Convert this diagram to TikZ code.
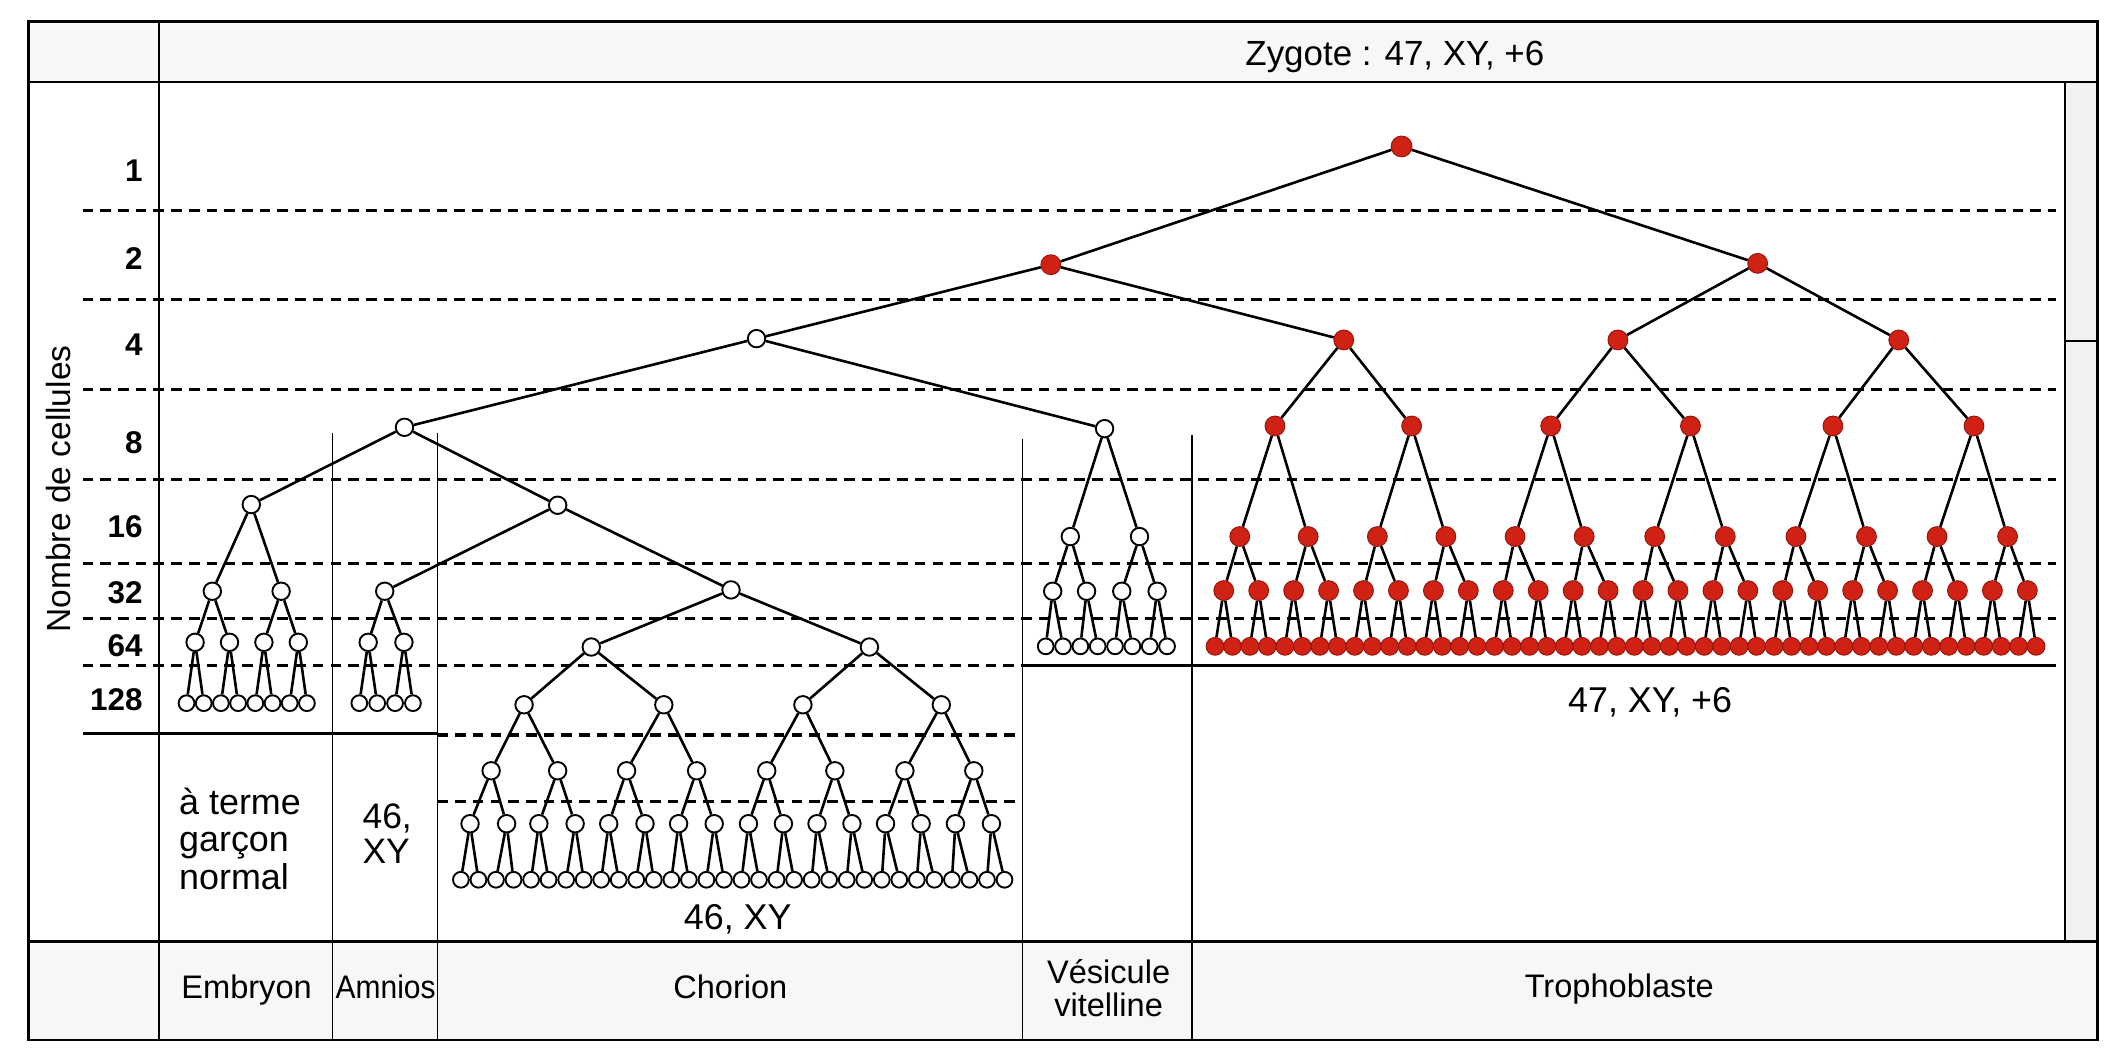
\documentclass[tikz,border=0pt]{standalone}
\usepackage{fontspec}
\setmainfont{Liberation Sans}
\usetikzlibrary{shapes.geometric}
\definecolor{cellred}{RGB}{208,34,20}
\definecolor{celledge}{RGB}{150,20,12}
\newcommand\linkpairs[3]{\foreach \i in {1,...,#3}{\pgfmathtruncatemacro\pca{2*\i-1}\pgfmathtruncatemacro\pcb{2*\i}\draw[edge] (#1-\i) -- (#2-\pca) (#1-\i) -- (#2-\pcb);}}
\begin{document}
\begin{tikzpicture}[x=0.02cm,y=-0.02cm,
  edge/.style={line width=1.1pt,black},
  gridline/.style={line width=1.3pt,dash pattern=on 4.5pt off 3pt},
  hline/.style={line width=1.2pt},
  sepline/.style={line width=0.7pt},
  septhick/.style={line width=0.9pt},
  framel/.style={line width=1.1pt},
  wn/.style={circle,draw=black,fill=white,line width=0.8pt,inner sep=0pt,minimum size=2.6mm},
  wl/.style={wn,minimum size=2.35mm},
  rn/.style={circle,draw=celledge,fill=cellred,line width=0.4pt,inner sep=0pt,minimum size=2.95mm},
  rl/.style={rn,minimum size=2.65mm},
  lab/.style={font=\fontsize{13.3}{14}\selectfont\bfseries,anchor=base east,inner sep=0pt},
  foot/.style={font=\fontsize{13.8}{14}\selectfont,anchor=base,inner sep=0pt},
  kar/.style={font=\fontsize{15.2}{16}\selectfont,anchor=base,inner sep=0pt}
]
\path[use as bounding box] (0,0) rectangle (1568,786);
% light backgrounds
\fill[gray!6] (21,16) rectangle (1561,61);
\fill[gray!6] (21,700.5) rectangle (1561,774);
\fill[gray!11] (1537,61) rectangle (1561,700.5);
% level lines
\foreach \yy in {156.5,223,290,357,419.6,460} \draw[gridline] (61.5,\yy) -- (1530,\yy);
\draw[gridline] (61.5,495.5) -- (761,495.5);
\draw[hline] (761,495) -- (1530,495);
\draw[hline] (61.5,546) -- (325.5,546);
\draw[gridline] (325.5,547) -- (757,547);
\draw[gridline] (325.5,596.5) -- (757,596.5);
% frame
\draw[framel] (21,16) rectangle (1561,774);
\draw[framel] (21,61) -- (1561,61);
\draw[framel] (21,700.5) -- (1561,700.5);
\draw[septhick] (118.5,16) -- (118.5,774);
\draw[sepline] (247.5,322) -- (247.5,774);
\draw[sepline] (325.5,322) -- (325.5,774);
\draw[sepline] (761,327) -- (761,774);
\draw[sepline] (887,324) -- (887,774);
\draw[septhick] (1537,61) -- (1537,700.5);
\draw[sepline] (1537,254) -- (1561,254);
% ---- tree: top
\node[rn,minimum size=3.1mm] (z) at (1043,109) {};
\node[rn] (a) at (782,197) {};
\node[rn] (b) at (1308,196) {};
\node[wn] (w4) at (563,252) {};
\node[rn] (r4a) at (1000,253) {};
\node[rn] (r4b) at (1204,253) {};
\node[rn] (r4c) at (1413,253) {};
\node[wn] (w8a) at (301,318) {};
\node[wn] (w8b) at (822,319) {};
\draw[edge] (z) -- (a) (z) -- (b) (a) -- (w4) (a) -- (r4a) (b) -- (r4b) (b) -- (r4c)
  (w4) -- (w8a) (w4) -- (w8b);
% ---- trophoblaste
\foreach \x [count=\i] in {948.8,1050.5,1154,1258,1364,1469} \node[rn] (t8-\i) at (\x,317) {};
\foreach \x [count=\i] in {922.6,973.5,1025,1076,1127.5,1178.9,1231.4,1283.9,1336.5,1389,1441.5,1494} \node[rn] (t16-\i) at (\x,399.3) {};
\foreach \i in {1,...,24} {\pgfmathsetmacro\xx{910.7+26*(\i-1)}\node[rn] (t32-\i) at (\xx,439.5) {};}
\foreach \i in {1,...,48} {\pgfmathsetmacro\xx{904.2+13*(\i-1)}\node[rl] (t64-\i) at (\xx,481) {};}
\draw[edge] (r4a) -- (t8-1) (r4a) -- (t8-2) (r4b) -- (t8-3) (r4b) -- (t8-4) (r4c) -- (t8-5) (r4c) -- (t8-6);
\linkpairs{t8}{t16}{6}
\linkpairs{t16}{t32}{12}
\linkpairs{t32}{t64}{24}
% ---- embryon
\node[wn] (e16) at (187,375.5) {};
\foreach \x [count=\i] in {158,209.2} \node[wn] (e32-\i) at (\x,440) {};
\foreach \x [count=\i] in {145.2,170.8,196.4,222} \node[wn] (e64-\i) at (\x,478) {};
\foreach \i in {1,...,8} {\pgfmathsetmacro\xx{138.8+12.8*(\i-1)}\node[wl] (eL-\i) at (\xx,523.3) {};}
\draw[edge] (w8a) -- (e16) (e16) -- (e32-1) (e16) -- (e32-2);
\linkpairs{e32}{e64}{2}
\linkpairs{e64}{eL}{4}
% ---- amnios
\node[wn] (w16) at (415,376) {};
\node[wn] (am32) at (286.3,440) {};
\foreach \x [count=\i] in {274,300.6} \node[wn] (am64-\i) at (\x,478) {};
\foreach \i in {1,...,4} {\pgfmathsetmacro\xx{267.4+13.3*(\i-1)}\node[wl] (amL-\i) at (\xx,523.3) {};}
\draw[edge] (w8a) -- (w16) (w16) -- (am32) (am32) -- (am64-1) (am32) -- (am64-2);
\linkpairs{am64}{amL}{2}
% ---- chorion
\node[wn] (ch32) at (544,439) {};
\foreach \x [count=\i] in {440,647} \node[wn] (ch64-\i) at (\x,481.5) {};
\foreach \x [count=\i] in {390,494,597.5,700.5} \node[wn] (ch128-\i) at (\x,524.5) {};
\foreach \x [count=\i] in {365.5,415,466.3,518.4,570.6,621.3,673.4,724.7} \node[wn] (ch256-\i) at (\x,573.6) {};
\foreach \x [count=\i] in {349.8,377,401,428,453,480,505,531.5,557,583,608,634,659,685.5,711,737.8} \node[wn] (ch512-\i) at (\x,613) {};
\foreach \i in {1,...,32} {\pgfmathsetmacro\xx{343+13.05*(\i-1)}\node[wl] (chL-\i) at (\xx,654.7) {};}
\draw[edge] (w16) -- (ch32) (ch32) -- (ch64-1) (ch32) -- (ch64-2);
\linkpairs{ch64}{ch128}{2}
\linkpairs{ch128}{ch256}{4}
\linkpairs{ch256}{ch512}{8}
\linkpairs{ch512}{chL}{16}
% ---- vesicule
\foreach \x [count=\i] in {796.5,848} \node[wn] (v16-\i) at (\x,399.3) {};
\foreach \x [count=\i] in {783.4,808.6,834.8,861.1} \node[wn] (v32-\i) at (\x,440) {};
\foreach \i in {1,...,8} {\pgfmathsetmacro\xx{778.2+12.9*(\i-1)}\node[wl] (vL-\i) at (\xx,481) {};}
\draw[edge] (w8b) -- (v16-1) (w8b) -- (v16-2);
\linkpairs{v16}{v32}{2}
\linkpairs{v32}{vL}{4}
% ---- texts
\foreach \t/\yy in {1/135.2,2/200.9,4/264.9,8/337.8,16/400,32/448.9,64/488.6,128/528.7}
  \node[lab] (lab\t) at (106.5,\yy) {\t};
\node[rotate=90,anchor=base west,inner sep=0pt,font=\fontsize{14.2}{16}\selectfont] (ylab) at (52.5,471) {Nombre de cellules};
\node[font=\fontsize{14.8}{16}\selectfont,anchor=base,inner sep=0pt] (zyg) at (1038,48.4) {Zygote : 47, XY, +6};
\node[foot] (fe) at (183.5,743) {Embryon};
\node[foot] (fa) at (287,743) {\scalebox{0.92}[1]{Amnios}};
\node[foot] (fc) at (543.5,743) {Chorion};
\node[foot] (fv1) at (825,732) {Vésicule};
\node[foot] (fv2) at (825,756.4) {vitelline};
\node[foot] (ft) at (1205,742) {Trophoblaste};
\node[kar,anchor=base west] (at1) at (133,606.4) {à terme};
\node[kar,anchor=base west] (at2) at (133,633.6) {garçon};
\node[kar,anchor=base west] (at3) at (133,662) {normal};
\node[kar,anchor=base west,font=\fontsize{15}{16}\selectfont] (am1) at (269.5,616.3) {46,};
\node[kar,anchor=base west,font=\fontsize{15}{16}\selectfont] (am2) at (269.5,642.8) {XY};
\node[kar] (chk) at (549,692) {46, XY};
\node[kar] (trk) at (1228,530.2) {47, XY, +6};
\end{tikzpicture}
\end{document}
